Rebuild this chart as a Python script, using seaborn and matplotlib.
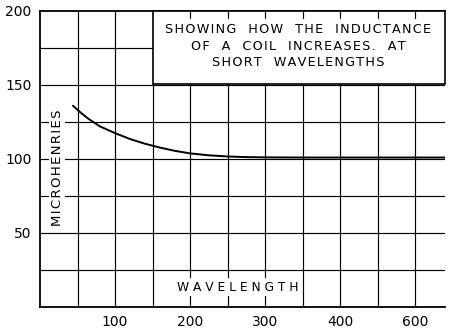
import matplotlib
matplotlib.use("Agg")
import matplotlib.pyplot as plt
import seaborn as sns
import pandas as pd
from matplotlib.patches import Rectangle

# Inductance of the coil against wavelength
wavelength = [44, 55, 65, 80, 100, 120, 140, 160, 180, 200, 225, 250, 275, 300,
              350, 400, 450, 500, 540]
microhenries = [136, 131, 127, 122, 117.5, 113.5, 110.3, 107.7, 105.5, 103.8,
                102.5, 101.7, 101.3, 101.1, 101, 101, 101, 101, 101]

x_ticks = [100, 200, 300, 400, 500]
x_tick_labels = ["100", "200", "300", "400", "600"]
y_ticks = [50, 100, 150, 200]
y_tick_labels = ["50", "100", "150", "200"]

title_lines = ["SHOWING HOW THE INDUCTANCE",
               "OF A COIL INCREASES. AT",
               "SHORT WAVELENGTHS"]


def spaced(text, gap="\u200a", word_gap="   "):
    """Letter-spaced lettering in the style of a hand-drawn caption."""
    return gap.join(text).replace(gap + " " + gap, word_gap)


sns.set_style("white")
plt.rcParams["font.family"] = ["DejaVu Sans"]
plt.rcParams["text.color"] = "black"
plt.rcParams["xtick.color"] = "black"
plt.rcParams["ytick.color"] = "black"

fig = plt.figure(figsize=(4.5, 3.29), dpi=100)
ax = fig.add_axes([40 / 450, 1 - 307 / 329, 405 / 450, 296 / 329])

df = pd.DataFrame({"wavelength": wavelength, "microhenries": microhenries})
sns.lineplot(data=df, x="wavelength", y="microhenries", ax=ax,
             color="black", linewidth=1.4, zorder=5)

ax.set_xlim(0, 540)
ax.set_ylim(0, 200)

# hand-ruled grid
for gx in range(50, 540, 50):
    ax.axvline(gx, color="black", linewidth=0.85, zorder=1)
for gy in range(25, 200, 25):
    ax.axhline(gy, color="black", linewidth=0.85, zorder=1)

ax.set_xticks(x_ticks)
ax.set_xticklabels(x_tick_labels)
ax.set_yticks(y_ticks)
ax.set_yticklabels(y_tick_labels)
ax.tick_params(axis="x", length=0, pad=6, labelsize=10, labelcolor="black")
ax.tick_params(axis="y", length=3, width=1, pad=3, labelsize=10,
               color="black", labelcolor="black")
ax.set_xlabel("")
ax.set_ylabel("")

for side in ["left", "bottom", "top"]:
    ax.spines[side].set_color("black")
    ax.spines[side].set_linewidth(1.3)
ax.spines["right"].set_visible(False)

# title panel in the upper right
ax.add_patch(Rectangle((150, 151), 390, 49, facecolor="white",
                       edgecolor="black", linewidth=1.2, zorder=3, clip_on=False))
for gx in range(200, 540, 50):
    ax.plot([gx, gx], [195.5, 200], color="black", linewidth=0.85, zorder=4)
for i, line in enumerate(title_lines):
    ax.text(344, 187.5 - i * 11.2, spaced(line), ha="center", va="center",
            fontsize=9.2, color="black", zorder=6)

# axis captions
ax.text(264, 13.5, spaced("WAVELENGTH", " ", "  "), ha="center", va="center",
        fontsize=8.8, color="black", zorder=6,
        bbox=dict(facecolor="white", edgecolor="none", pad=1.5))
ax.text(23, 94, spaced("MICROHENRIES"), ha="center", va="center", rotation=90,
        fontsize=9.5, color="black", zorder=6,
        bbox=dict(facecolor="white", edgecolor="none", pad=1.0))

fig.savefig("out.png", dpi=100)
